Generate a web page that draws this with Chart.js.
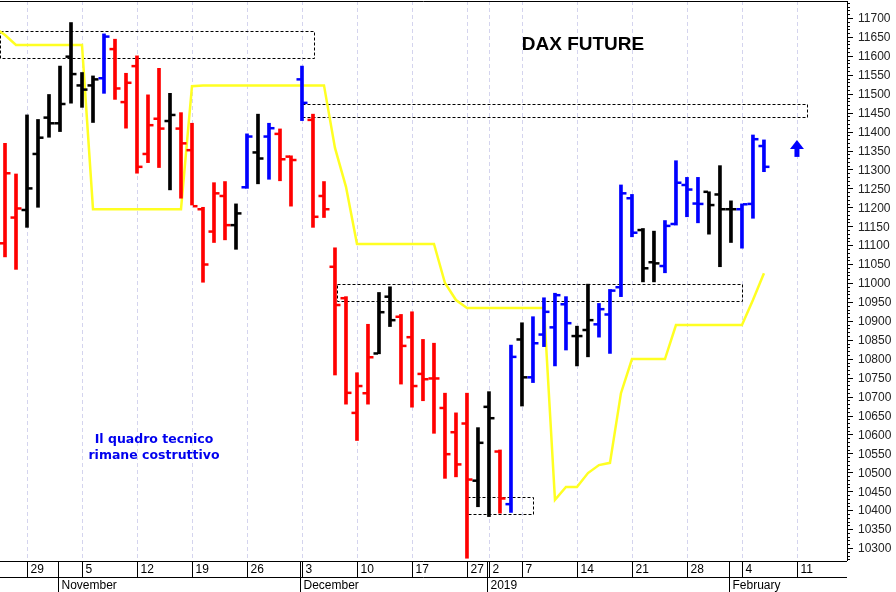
<!DOCTYPE html>
<html><head><meta charset="utf-8">
<script src="https://cdn.jsdelivr.net/npm/chart.js@4.4.1/dist/chart.umd.min.js"></script>
<style>html,body{margin:0;padding:0;background:#fff}#w{width:896px;height:592px}</style>
</head><body><div id="w"><canvas id="c"></canvas></div>
<script>
// trading-day index (0 = 22 Oct 2018)
const dayIdx = [3,4,5,6,7,8,9,10,11,12,13,14,15,16,17,18,19,20,21,22,23,24,25,26,27,28,29,30,31,32,33,34,35,36,37,38,39,40,41,42,43,44,45,46,47,48,49,50,51,52,53,54,55,56,57,58,59,60,61,62,63,64,65,66,67,68,69,70,71,72];
const opens  = [11105,11173,11193,11341,11437,11422,11598,11522,11522,11541,11618,11478,11573,11341,11434,11428,11408,11351,11195,11136,11230,11153,11253,11345,11387,11394,11334,11538,11431,11230,11043,10960,10657,10709,10814,10964,10911,10857,10760,10748,10670,10606,10629,10478,10673,10555,10416,10851,10751,10864,10883,10944,10860,10876,10891,10917,10989,11224,11140,11055,11045,11156,11259,11210,11241,11234,11195,11195,11209,11362];
const highs  = [11369,11288,11444,11432,11498,11573,11688,11556,11547,11658,11644,11554,11600,11497,11567,11501,11450,11422,11200,11265,11268,11209,11394,11446,11422,11407,11336,11573,11446,11268,11093,10964,10763,10891,10975,10990,10917,10924,10851,10841,10709,10657,10709,10618,10713,10559,10836,10895,10911,10961,10973,10964,10886,10997,10946,10983,11259,11234,11144,11137,11165,11323,11279,11279,11241,11310,11217,11209,11391,11378];
const lows   = [11069,11036,11147,11200,11385,11400,11475,11464,11424,11501,11485,11409,11290,11318,11305,11246,11224,11206,11002,11107,11114,11089,11250,11262,11274,11270,11203,11429,11147,11173,10757,10680,10584,10680,10813,10885,10733,10672,10689,10603,10484,10488,10273,10409,10383,10392,10394,10675,10737,10832,10781,10823,10781,10805,10857,10814,10964,11122,11003,11003,11027,11153,11175,11159,11129,11043,11107,11092,11171,11294];
const closes = [11290,11197,11250,11384,11422,11473,11552,11511,11538,11651,11514,11529,11307,11417,11408,11444,11369,11203,11049,11237,11153,11184,11387,11329,11409,11327,11325,11476,11175,11195,10942,10710,10728,10804,10923,10902,10834,10728,10746,10748,10548,10521,10481,10578,10643,10431,10805,10751,10841,10924,10968,10894,10860,10902,10931,10980,11237,11133,11039,11052,11151,11265,11247,11209,11206,11195,11195,11208,11380,11307];
const signal = "rrkkkkkkkbrrrrrkrrrrrkbkbrrbrrrrrrkkrrrrrrrkkrbkbbbbkkbbbbkkbbbbkkkbbb";
const trendIdx = [2,3,4,5,6,7,8,9,10,11,12,13,14,15,16,17,18,19,20,21,22,23,24,25,26,27,28,29,30,31,32,33,34,35,36,37,38,39,40,41,42,43,44,45,46,47,48,49,50,51,52,53,54,55,56,57,58,59,60,61,62,63,64,65,66,67,68,69,70,71,72];
const trendVal = [11675,11655,11629,11629,11629,11629,11629,11629,11629,11195,11195,11195,11195,11195,11195,11195,11195,11195,11520,11522,11522,11522,11522,11522,11522,11522,11522,11522,11522,11522,11522,11357,11254,11103,11103,11103,11103,11103,11103,11103,11103,11000,10955,10934,10934,10934,10934,10934,10934,10934,10934,10427,10461,10461,10498,10519,10525,10709,10799,10799,10799,10799,10889,10889,10889,10889,10889,10889,10889,10955,11026];
// zones: [fromIdx, toIdx, low, high]
const zones = [[2.5,31.1,11594,11666],[30,75.9,11438,11472],[33.2,70,10952,10997],[45,51,10390,10435]];
const weekIdx = [5,10,15,20,25,30,35,40,45,47,50,55,60,65,70,75];
const weekLbl = ["29","5","12","19","26","3","10","17","27","2","7","14","21","28","4","11"];
const monthIdx = [8,30,47,69];
const monthLbl = ["November","December","2019","February"];
const arrowAt = [75,11378];

const colMap = {r:'#ff0000',k:'#000000',b:'#0000ff'};
const cols = signal.split('').map(s=>colMap[s]);

const deco = {
  id:'deco',
  beforeDatasetsDraw(ch){
    const {ctx,scales:{x,y},chartArea:a}=ch;
    ctx.save();
    ctx.strokeStyle='#d4d4ee';ctx.lineWidth=1;ctx.setLineDash([4,3]);
    weekIdx.forEach(i=>{const px=Math.round(x.getPixelForValue(i))+0.5;ctx.beginPath();ctx.moveTo(px,a.top);ctx.lineTo(px,a.bottom);ctx.stroke();});
    ctx.strokeStyle='#000';ctx.setLineDash([3,2]);
    zones.forEach(z=>{const x1=Math.round(x.getPixelForValue(z[0]))+0.5,x2=Math.round(x.getPixelForValue(z[1]))+0.5,y1=Math.round(y.getPixelForValue(z[3]))+0.5,y2=Math.round(y.getPixelForValue(z[2]))+0.5;ctx.strokeRect(x1,y1,x2-x1,y2-y1);});
    ctx.restore();
  },
  afterDatasetsDraw(ch){
    const {ctx,scales:{x,y},chartArea:a}=ch;
    ctx.save();
    dayIdx.forEach((d,k)=>{const px=x.getPixelForValue(d);ctx.fillStyle=cols[k];
      ctx.fillRect(px-5.5,y.getPixelForValue(opens[k])-1.2,4.5,2.5);
      ctx.fillRect(px+1,y.getPixelForValue(closes[k])-1.2,4.5,2.5);});
    const ax=x.getPixelForValue(arrowAt[0]),ay=y.getPixelForValue(arrowAt[1]);
    ctx.fillStyle='#0000ff';ctx.beginPath();ctx.moveTo(ax,ay);ctx.lineTo(ax+7,ay+9);ctx.lineTo(ax-7,ay+9);ctx.closePath();ctx.fill();
    ctx.fillRect(ax-2.5,ay+8,5,9);
    ctx.fillStyle='#000';ctx.font='bold 19px "Liberation Sans", Arial';ctx.textAlign='center';ctx.textBaseline='middle';
    ctx.fillText('DAX FUTURE',583,45);
    ctx.fillStyle='#0000ee';ctx.font='bold 12.5px "DejaVu Sans", Verdana';
    ctx.fillText('Il quadro tecnico',154,440);ctx.fillText('rimane costruttivo',154,456);
    ctx.strokeStyle='#000';ctx.lineWidth=1;ctx.setLineDash([]);
    ctx.beginPath();ctx.moveTo(0,a.top+0.5);ctx.lineTo(a.right,a.top+0.5);ctx.stroke();
    ctx.beginPath();ctx.moveTo(a.right+0.5,a.top);ctx.lineTo(a.right+0.5,a.bottom);ctx.stroke();
    ctx.beginPath();ctx.moveTo(0,a.bottom+0.5);ctx.lineTo(a.right,a.bottom+0.5);ctx.moveTo(0,577.5);ctx.lineTo(a.right,577.5);ctx.stroke();
    ctx.font='12px "Liberation Sans", Arial';ctx.textAlign='left';ctx.textBaseline='middle';ctx.fillStyle='#000';
    weekIdx.forEach((i,k)=>{const px=Math.round(x.getPixelForValue(i))+0.5;ctx.beginPath();ctx.moveTo(px,a.bottom);ctx.lineTo(px,577);ctx.stroke();ctx.fillText(weekLbl[k],px+3,570);});
    monthIdx.forEach((i,k)=>{const px=Math.round(x.getPixelForValue(i))-1.5;ctx.beginPath();ctx.moveTo(px,a.bottom);ctx.lineTo(px,592);ctx.stroke();ctx.fillText(monthLbl[k],px+3,586);});
    for(let v=10270;v<=11740;v+=10){const py=Math.round(y.getPixelForValue(v))+0.5;const L=(v%50===0)?6:3;ctx.beginPath();ctx.moveTo(a.right,py);ctx.lineTo(a.right+L,py);ctx.stroke();}
    ctx.fillStyle='#222';
    y.ticks.forEach(t=>{ctx.fillText(String(t.value),a.right+11,y.getPixelForValue(t.value)+1);});
    ctx.restore();
  }
};

new Chart(document.getElementById('c'),{
  data:{datasets:[
    {type:'bar',data:dayIdx.map((d,k)=>({x:d,y:[lows[k],highs[k]]})),backgroundColor:cols,barThickness:3,order:1},
    {type:'line',data:trendIdx.map((d,k)=>({x:d,y:trendVal[k]})),borderColor:'#ffff22',borderWidth:2.5,pointRadius:0,tension:0,order:2}
  ]},
  options:{responsive:true,maintainAspectRatio:false,animation:false,
    layout:{padding:{top:1,bottom:31,left:0,right:0}},
    plugins:{legend:{display:false},tooltip:{enabled:false}},
    scales:{
      x:{type:'linear',offset:false,min:2.545,max:79.55,display:false},
      y:{position:'right',min:10265.7,max:11744.9,
        afterFit(s){s.width=49;s.paddingTop=0;s.paddingBottom=0;},
        afterBuildTicks(s){const t=[];for(let v=10300;v<=11700;v+=50)t.push({value:v});s.ticks=t;},
        grid:{display:false,drawTicks:false},border:{display:false},
        ticks:{display:false}}
    }},
  plugins:[deco]
});
</script></body></html>
